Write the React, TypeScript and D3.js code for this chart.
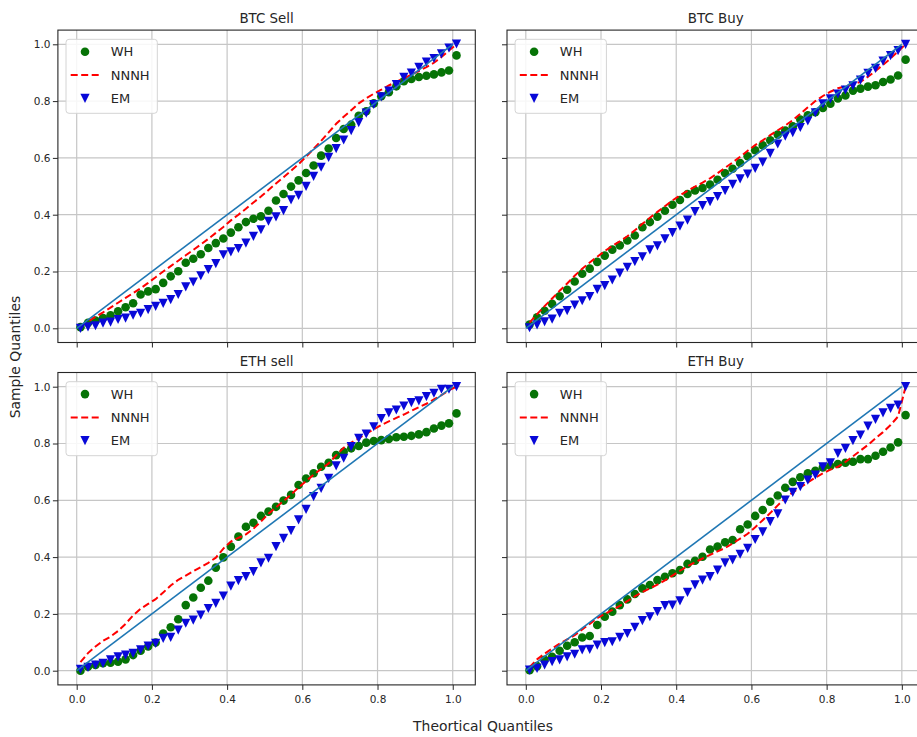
import { useEffect, useRef } from "react";
import * as d3 from "d3";

// theoretical quantile positions shared by all series
const QUANTILES = [
  0.01, 0.03, 0.05, 0.07, 0.09, 0.11, 0.13, 0.15, 0.17, 0.19,
  0.21, 0.23, 0.25, 0.27, 0.29, 0.31, 0.33, 0.35, 0.37, 0.39,
  0.41, 0.43, 0.45, 0.47, 0.49, 0.51, 0.53, 0.55, 0.57, 0.59,
  0.61, 0.63, 0.65, 0.67, 0.69, 0.71, 0.73, 0.75, 0.77, 0.79,
  0.81, 0.83, 0.85, 0.87, 0.89, 0.91, 0.93, 0.95, 0.97, 0.99,
  1.01,
];
const REF_LINE = [0, 1];
const TICKS = [0, 0.2, 0.4, 0.6, 0.8, 1.0];
const LEGEND = ["WH", "NNNH", "EM"];
const TITLES = ["BTC Sell", "BTC Buy", "ETH sell", "ETH Buy"];

const BTC_SELL_WH = [
  0.004, 0.019, 0.027, 0.036, 0.046, 0.06, 0.074, 0.088, 0.119, 0.13,
  0.138, 0.16, 0.183, 0.201, 0.231, 0.245, 0.261, 0.283, 0.3, 0.316,
  0.337, 0.356, 0.374, 0.386, 0.394, 0.414, 0.45, 0.473, 0.499, 0.521,
  0.547, 0.573, 0.608, 0.633, 0.67, 0.702, 0.717, 0.748, 0.764, 0.792,
  0.817, 0.831, 0.852, 0.87, 0.878, 0.885, 0.889, 0.894, 0.901, 0.908,
  0.961,
];
const BTC_SELL_NNNH = [
  0.008, 0.024, 0.04, 0.056, 0.073, 0.09, 0.107, 0.124, 0.141, 0.16,
  0.18, 0.2, 0.219, 0.238, 0.257, 0.276, 0.295, 0.315, 0.336, 0.357,
  0.38, 0.4, 0.421, 0.443, 0.464, 0.487, 0.51, 0.532, 0.555, 0.578,
  0.604, 0.632, 0.66, 0.69, 0.72, 0.745, 0.768, 0.792, 0.81, 0.826,
  0.84, 0.855, 0.868, 0.88, 0.893, 0.906, 0.92, 0.935, 0.955, 0.978,
  1.0,
];
const BTC_SELL_EM = [
  0.0, 0.005, 0.009, 0.018, 0.022, 0.031, 0.036, 0.046, 0.053, 0.066,
  0.077, 0.088, 0.101, 0.119, 0.146, 0.163, 0.185, 0.207, 0.228, 0.259,
  0.269, 0.281, 0.3, 0.324, 0.347, 0.377, 0.392, 0.414, 0.452, 0.468,
  0.5, 0.535, 0.567, 0.602, 0.633, 0.663, 0.696, 0.724, 0.758, 0.788,
  0.815, 0.835, 0.858, 0.884, 0.899, 0.919, 0.937, 0.95, 0.966, 0.987,
  1.001,
];

const BTC_BUY_WH = [
  0.013, 0.039, 0.062, 0.086, 0.113, 0.136, 0.165, 0.192, 0.21, 0.234,
  0.256, 0.277, 0.292, 0.309, 0.327, 0.356, 0.374, 0.393, 0.414, 0.435,
  0.452, 0.473, 0.485, 0.494, 0.506, 0.523, 0.546, 0.562, 0.582, 0.606,
  0.627, 0.644, 0.662, 0.682, 0.696, 0.711, 0.735, 0.75, 0.761, 0.776,
  0.791, 0.809, 0.82, 0.837, 0.844, 0.851, 0.856, 0.867, 0.876, 0.89,
  0.946,
];
const BTC_BUY_NNNH = [
  0.02, 0.05, 0.078, 0.105, 0.132, 0.158, 0.185, 0.21, 0.232, 0.252,
  0.272, 0.29, 0.306, 0.324, 0.345, 0.368, 0.389, 0.41, 0.43, 0.45,
  0.468, 0.484, 0.499, 0.513, 0.528, 0.546, 0.565, 0.584, 0.604, 0.625,
  0.645, 0.662, 0.68, 0.697, 0.714, 0.733, 0.755, 0.778, 0.8, 0.818,
  0.833, 0.845, 0.852, 0.858, 0.868, 0.886, 0.906, 0.928, 0.95, 0.975,
  1.0,
];
const BTC_BUY_EM = [
  0.002, 0.012, 0.023, 0.032, 0.053, 0.062, 0.082, 0.097, 0.112, 0.137,
  0.15, 0.17, 0.194, 0.215, 0.235, 0.252, 0.276, 0.29, 0.315, 0.337,
  0.36, 0.381, 0.411, 0.432, 0.446, 0.464, 0.485, 0.507, 0.526, 0.543,
  0.563, 0.585, 0.616, 0.649, 0.677, 0.689, 0.707, 0.73, 0.759, 0.79,
  0.808, 0.825, 0.839, 0.854, 0.874, 0.898, 0.915, 0.941, 0.96, 0.978,
  1.0,
];

const ETH_SELL_WH = [
  0.0, 0.014, 0.02, 0.026, 0.028, 0.032, 0.04, 0.055, 0.07, 0.085,
  0.099, 0.131, 0.153, 0.181, 0.231, 0.258, 0.292, 0.317, 0.363, 0.399,
  0.437, 0.472, 0.507, 0.521, 0.545, 0.56, 0.577, 0.599, 0.619, 0.654,
  0.677, 0.695, 0.718, 0.732, 0.759, 0.771, 0.783, 0.791, 0.803, 0.809,
  0.812, 0.816, 0.822, 0.824, 0.827, 0.832, 0.84, 0.853, 0.863, 0.871,
  0.906,
];
const ETH_SELL_NNNH = [
  0.03, 0.062, 0.085, 0.105, 0.12, 0.14, 0.165, 0.195, 0.218, 0.235,
  0.252, 0.275, 0.3, 0.32, 0.335, 0.35, 0.365, 0.38, 0.398, 0.43,
  0.455, 0.468, 0.48, 0.5, 0.525, 0.553, 0.575, 0.597, 0.62, 0.645,
  0.668, 0.69, 0.71, 0.73, 0.758, 0.785, 0.803, 0.818, 0.835, 0.85,
  0.865, 0.878, 0.89, 0.902, 0.915, 0.928, 0.94, 0.955, 0.97, 0.988,
  1.0,
];
const ETH_SELL_EM = [
  0.005, 0.012, 0.02, 0.026, 0.038, 0.049, 0.055, 0.061, 0.073, 0.087,
  0.096, 0.114, 0.117, 0.143, 0.167, 0.178, 0.196, 0.219, 0.237, 0.263,
  0.298, 0.317, 0.331, 0.349, 0.38, 0.396, 0.437, 0.466, 0.493, 0.531,
  0.568, 0.613, 0.642, 0.677, 0.721, 0.748, 0.789, 0.818, 0.833, 0.859,
  0.888, 0.908, 0.918, 0.932, 0.944, 0.95, 0.965, 0.977, 0.991, 0.991,
  1.0,
];

const ETH_BUY_WH = [
  0.002, 0.016, 0.038, 0.049, 0.07, 0.088, 0.1, 0.117, 0.122, 0.161,
  0.19, 0.208, 0.231, 0.251, 0.27, 0.29, 0.302, 0.319, 0.331, 0.343,
  0.354, 0.376, 0.387, 0.401, 0.427, 0.437, 0.452, 0.46, 0.498, 0.515,
  0.545, 0.566, 0.595, 0.617, 0.644, 0.665, 0.681, 0.695, 0.704, 0.716,
  0.721, 0.728, 0.732, 0.736, 0.745, 0.745, 0.757, 0.771, 0.786, 0.804,
  0.9,
];
const ETH_BUY_NNNH = [
  0.012, 0.04, 0.06, 0.078, 0.095, 0.11, 0.125, 0.145, 0.165, 0.185,
  0.2, 0.214, 0.228, 0.245, 0.262, 0.277, 0.29, 0.303, 0.318, 0.335,
  0.352, 0.368, 0.382, 0.395, 0.408, 0.42, 0.432, 0.448, 0.465, 0.482,
  0.505, 0.53, 0.555, 0.582, 0.608, 0.628, 0.645, 0.663, 0.68, 0.695,
  0.708, 0.718, 0.735, 0.755, 0.775, 0.795, 0.818, 0.84, 0.865, 0.895,
  1.0,
];
const ETH_BUY_EM = [
  0.002, 0.008, 0.02, 0.032, 0.038, 0.049, 0.058, 0.073, 0.075, 0.09,
  0.099, 0.102, 0.117, 0.131, 0.153, 0.176, 0.19, 0.208, 0.229, 0.231,
  0.246, 0.276, 0.302, 0.319, 0.331, 0.354, 0.38, 0.39, 0.41, 0.431,
  0.462, 0.489, 0.525, 0.552, 0.601, 0.628, 0.648, 0.671, 0.689, 0.718,
  0.732, 0.765, 0.783, 0.81, 0.83, 0.861, 0.885, 0.908, 0.924, 0.935,
  1.0,
];

const FONT = "'DejaVu Sans', Verdana, sans-serif";
const GREEN = "#067306";
const RED = "#ff0000";
const BLUE = "#0808d8";
const LINE_BLUE = "#1f77b4";
const INK = "#262626";

// downward triangle with its box centred on the point, like matplotlib's "v"
const triangle = (s) => `M${-s},${-s}L${s},${-s}L0,${s}Z`;

export default function App() {
  const svgRef = useRef(null);

  useEffect(() => {
    const W = 917;
    const H = 737;
    const svg = d3.select(svgRef.current);
    svg.selectAll("*").remove();
    svg.attr("width", W).attr("height", H).attr("font-family", FONT);
    svg.append("rect").attr("width", W).attr("height", H).attr("fill", "#fff");

    const panels = [
      { title: TITLES[0], wh: BTC_SELL_WH, nnnh: BTC_SELL_NNNH, em: BTC_SELL_EM },
      { title: TITLES[1], wh: BTC_BUY_WH, nnnh: BTC_BUY_NNNH, em: BTC_BUY_EM },
      { title: TITLES[2], wh: ETH_SELL_WH, nnnh: ETH_SELL_NNNH, em: ETH_SELL_EM },
      { title: TITLES[3], wh: ETH_BUY_WH, nnnh: ETH_BUY_NNNH, em: ETH_BUY_EM },
    ];

    const lefts = [57.9, 507];
    const tops = [30.1, 372.5];
    const PW = 417.4;
    const PH = 312.4;

    panels.forEach((p, k) => {
      const col = k % 2;
      const row = Math.floor(k / 2);
      const left = lefts[col];
      const top = tops[row];

      const x = d3.scaleLinear().domain([-0.05, 1.06]).range([left, left + PW]);
      const y = d3.scaleLinear().domain([-0.05, 1.05]).range([top + PH, top]);

      const g = svg.append("g");
      const clipId = `qq-clip-${k}`;
      g.append("clipPath").attr("id", clipId)
        .append("rect").attr("x", left).attr("y", top).attr("width", PW).attr("height", PH);

      // Grid
      g.append("g").selectAll("line").data(TICKS).join("line")
        .attr("x1", (d) => x(d)).attr("x2", (d) => x(d))
        .attr("y1", top).attr("y2", top + PH)
        .attr("stroke", "#c6c6c6").attr("stroke-width", 1.2);
      g.append("g").selectAll("line").data(TICKS).join("line")
        .attr("y1", (d) => y(d)).attr("y2", (d) => y(d))
        .attr("x1", left).attr("x2", left + PW)
        .attr("stroke", "#c6c6c6").attr("stroke-width", 1.2);

      // Axes (shared: labels only on the outer edges)
      g.append("g")
        .attr("transform", `translate(0,${top + PH})`)
        .call(d3.axisBottom(x).tickValues(TICKS).tickSize(5).tickPadding(5.5)
          .tickFormat(row === 1 ? d3.format(".1f") : () => ""))
        .call((a) => a.select(".domain").remove())
        .call((a) => a.selectAll("line").attr("stroke", INK))
        .call((a) => a.selectAll("text").attr("font-size", 10.5).attr("fill", INK).attr("font-family", FONT));
      g.append("g")
        .attr("transform", `translate(${left},0)`)
        .call(d3.axisLeft(y).tickValues(TICKS).tickSize(5).tickPadding(2.5)
          .tickFormat(col === 0 ? d3.format(".1f") : () => ""))
        .call((a) => a.select(".domain").remove())
        .call((a) => a.selectAll("line").attr("stroke", INK))
        .call((a) => a.selectAll("text").attr("font-size", 10.5).attr("fill", INK).attr("font-family", FONT));

      const plot = g.append("g").attr("clip-path", `url(#${clipId})`);

      // WH points
      plot.selectAll(".wh").data(p.wh).join("circle")
        .attr("class", "wh")
        .attr("cx", (d, i) => x(QUANTILES[i]))
        .attr("cy", (d) => y(d))
        .attr("r", 4.3)
        .attr("fill", GREEN);

      // NNNH dashed line
      const qLine = d3.line().x((d, i) => x(QUANTILES[i])).y((d) => y(d));
      plot.append("path").datum(p.nnnh)
        .attr("d", qLine)
        .attr("fill", "none")
        .attr("stroke", RED)
        .attr("stroke-width", 2)
        .attr("stroke-dasharray", "7,3.5");

      // EM triangles
      plot.selectAll(".em").data(p.em).join("path")
        .attr("class", "em")
        .attr("d", triangle(4.6))
        .attr("transform", (d, i) => `translate(${x(QUANTILES[i])},${y(d)})`)
        .attr("fill", BLUE);

      // y = x reference
      plot.append("path").datum(REF_LINE)
        .attr("d", d3.line().x((d) => x(d)).y((d) => y(d)))
        .attr("fill", "none")
        .attr("stroke", LINE_BLUE)
        .attr("stroke-width", 1.6);

      // Spines
      g.append("rect")
        .attr("x", left).attr("y", top).attr("width", PW).attr("height", PH)
        .attr("fill", "none").attr("stroke", INK).attr("stroke-width", 1.1);

      // Title
      g.append("text")
        .attr("x", left + PW / 2)
        .attr("y", top - 6.7)
        .attr("text-anchor", "middle")
        .attr("font-size", 13.4)
        .attr("fill", INK)
        .text(p.title);

      // Legend
      const lg = g.append("g").attr("transform", `translate(${left + 8.1},${top + 9.2})`);
      lg.append("rect")
        .attr("width", 91.3).attr("height", 74).attr("rx", 3)
        .attr("fill", "#fff").attr("fill-opacity", 0.85)
        .attr("stroke", "#d4d4d4");
      LEGEND.forEach((name, j) => {
        const cy = 12.4 + j * 23.3;
        if (name === "WH") {
          lg.append("circle").attr("cx", 19).attr("cy", cy).attr("r", 4.3).attr("fill", GREEN);
        } else if (name === "NNNH") {
          lg.append("line").attr("x1", 4.7).attr("x2", 33.3).attr("y1", cy).attr("y2", cy)
            .attr("stroke", RED).attr("stroke-width", 2).attr("stroke-dasharray", "7,3.5");
        } else {
          lg.append("path").attr("d", triangle(4.6)).attr("transform", `translate(19,${cy})`).attr("fill", BLUE);
        }
        lg.append("text")
          .attr("x", 44.7).attr("y", cy).attr("dy", "0.36em")
          .attr("font-size", 13).attr("fill", INK)
          .text(name);
      });
    });

    // Shared axis labels
    svg.append("text")
      .attr("transform", "translate(20,357) rotate(-90)")
      .attr("text-anchor", "middle")
      .attr("font-size", 13.9)
      .attr("fill", INK)
      .text("Sample Quantiles");
    svg.append("text")
      .attr("x", 483)
      .attr("y", 730.5)
      .attr("text-anchor", "middle")
      .attr("font-size", 13.9)
      .attr("fill", INK)
      .text("Theortical Quantiles");
  }, []);

  return (
    <svg
      ref={svgRef}
      style={{ position: "absolute", left: 0, top: 0, display: "block", overflow: "hidden" }}
    />
  );
}
